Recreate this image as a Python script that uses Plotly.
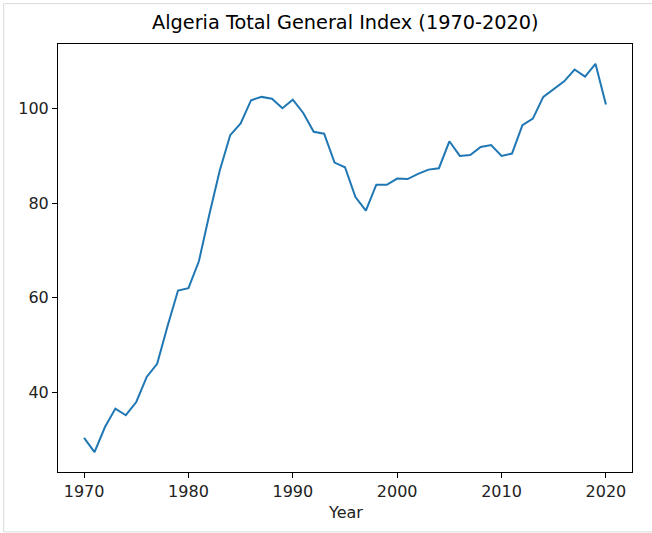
import plotly.graph_objects as go

years = list(range(1970, 2021))
index_values = [
    30.3, 27.3, 32.6, 36.5, 35.1, 37.9, 43.2, 46.0, 54.0, 61.5,
    62.0, 67.7, 77.6, 86.9, 94.4, 96.9, 101.8, 102.5, 102.1, 100.1,
    101.9, 99.1, 95.1, 94.7, 88.6, 87.6, 81.3, 78.4, 83.9, 83.9,
    85.2, 85.1, 86.2, 87.1, 87.4, 93.1, 90.0, 90.2, 91.9, 92.3,
    90.0, 90.5, 96.5, 97.9, 102.5, 104.1, 105.8, 108.3, 106.8, 109.5,
    100.9,
]
x_ticks = [1970, 1980, 1990, 2000, 2010, 2020]
y_ticks = [40, 60, 80, 100]
title_text = "Algeria Total General Index (1970-2020)"
x_label = "Year"

W, H = 652, 533
L, R, T, B = 58.3, 632.3, 44.3, 471.7
pw, ph = R - L, B - T

fig = go.Figure()
fig.add_trace(go.Scatter(
    x=years, y=index_values, mode="lines",
    line=dict(color="#1f77b4", width=2),
    hoverinfo="x+y", showlegend=False,
))

font = "DejaVu Sans, Liberation Sans, sans-serif"
axis_common = dict(
    showgrid=False, zeroline=False, showline=True, mirror=True,
    linecolor="black", linewidth=1,
    ticks="outside", ticklen=5, tickwidth=1, tickcolor="black",
    tickfont=dict(family=font, size=16, color="#222"),
)

fig.update_layout(
    width=W, height=H,
    margin=dict(l=L, r=W - R, t=T, b=H - B, pad=0),
    paper_bgcolor="white", plot_bgcolor="white",
    xaxis=dict(range=[1967.5, 2022.5], tickvals=x_ticks, **axis_common),
    yaxis=dict(range=[23.08, 113.7], tickvals=y_ticks, **axis_common),
    annotations=[
        dict(text=title_text, x=0.5, y=1 + 8.3 / ph, xref="paper", yref="paper",
             xanchor="center", yanchor="bottom", showarrow=False,
             font=dict(family=font, size=19.3, color="black")),
        dict(text=x_label, x=0.5, y=-(512 - B) / ph, xref="paper", yref="paper",
             xanchor="center", yanchor="middle", showarrow=False,
             font=dict(family=font, size=16, color="#222")),
    ],
    shapes=[
        dict(type="rect", xref="paper", yref="paper",
             x0=(4 - L) / pw, x1=(656 - L) / pw,
             y0=(B - 531.5) / ph, y1=(B - 4) / ph,
             line=dict(color="#d9d9d9", width=1), fillcolor="rgba(0,0,0,0)",
             layer="below"),
    ],
)

fig.write_html(
    "out.html",
    config={"displayModeBar": False},
    post_script="document.body.style.margin='0px';document.body.style.overflow='hidden';",
)
